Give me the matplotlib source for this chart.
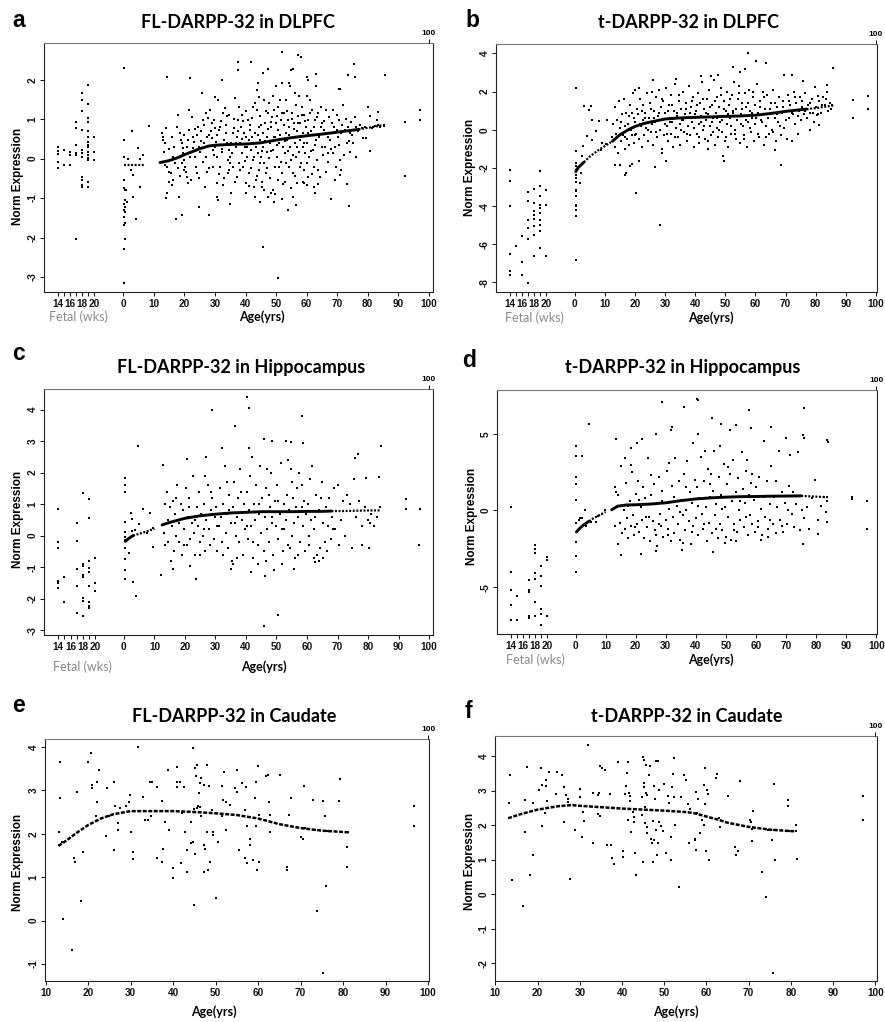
import matplotlib
matplotlib.use("Agg")
import matplotlib.pyplot as plt
from matplotlib.transforms import blended_transform_factory

W, H = 885, 1022

# ---------------- DATA ----------------
TICK_WEEKS = [14, 15, 16, 17, 18, 19, 20]
TICK_AGES = [0, 10, 20, 30, 40, 50, 60, 70, 80, 90, 100]

# ---- Panel a : FL-DARPP-32 in DLPFC ----
A_FETAL = [(14, 0.3), (14, 0.2), (14, 0.12), (14, -0.08), (14, -0.25), (15, 0.22), (15, -0.16),
           (16, 0.18), (16, 0.09), (16, -0.16), (17, 0.94), (17, 0.77), (17, 0.35), (17, 0.13), (17, 0.09), (17, -2.04),
           (18, 1.66), (18, 1.49), (18, 1.2), (18, 0.73), (18, 0.22), (18, 0.13), (18, 0.05), (18, -0.46), (18, -0.54),
           (18, -0.67), (18, -0.71), (19, 1.87), (19, 1.38), (19, 1.03), (19, 0.94), (19, 0.69), (19, 0.56), (19, 0.43),
           (19, 0.35), (19, 0.3), (19, 0.18), (19, 0.09), (19, 0.01), (19, -0.03), (19, -0.58), (19, -0.71),
           (20, 0.56), (20, 0.18), (20, -0.03)]
A_CHILD = [(0.3, 2.3), (0.3, 0.47), (0.3, 0.03), (0.3, -0.54), (0.3, -0.75), (0.4, -0.8), (0.4, -1.05), (0.3, -1.14),
           (0.4, -1.22), (0.3, -1.31), (0.4, -1.35), (0.3, -1.47), (0.4, -1.64), (0.3, -1.69), (0.4, -2.03),
           (0.3, -2.28), (0.3, -3.15), (1.6, 0.0), (2.7, 0.69), (2.4, -0.29), (3.1, -0.42), (3.3, -0.97),
           (4.1, -1.52), (4.9, 0.26), (5.4, 0.0), (5.6, -0.71), (6.5, 0.09), (8.5, 0.83), (1.0, -0.8), (1.2, -1.1)]
A_ADULT = [(12.6, 0.64), (12.9, 0.56), (13.1, 0.47), (13.7, 0.39), (13.4, 0.18), (14.2, -0.2), (14.8, -0.33), (15.1, -0.58),
           (15.5, -0.37), (15.8, -0.67), (16.2, -0.54), (16.4, 0.05), (15.3, -0.03), (14.0, 0.77), (16.6, 0.3), (16.9, -0.12),
           (17.4, 0.81), (18.0, 1.11), (18.5, 0.64), (18.8, 0.47), (19.1, 0.39), (19.4, 0.26), (19.6, 0.14), (20.0, -0.03),
           (20.3, -0.2), (20.5, -0.33), (20.7, -0.46), (21.0, -0.63), (21.5, 1.24), (21.6, 0.73), (21.8, 0.05), (18.3, 0.05),
           (19.1, -0.12), (19.8, -0.29), (20.7, 0.3), (21.3, 0.47), (22.4, 1.05), (22.7, 0.56), (23.1, 0.43), (23.4, 0.05),
           (23.8, -0.2), (24.0, -0.37), (24.5, 0.81), (24.9, 0.3), (25.1, 0.18), (25.4, 0.69), (25.6, 1.66), (26.0, -0.08),
           (26.2, 0.98), (26.4, 0.39), (26.7, -0.71), (27.0, 0.05), (27.3, 0.56), (22.9, 0.26), (24.2, 0.6), (27.8, 1.03),
           (28.4, 1.24), (28.6, 0.69), (28.9, 0.52), (29.2, 0.22), (29.4, -0.2), (29.8, 0.98), (30.0, 0.3), (30.3, 0.43),
           (30.5, 0.05), (30.8, -0.61), (31.1, 1.49), (31.4, 0.73), (31.6, 0.81), (31.8, -0.2), (32.2, 0.18), (32.5, 1.15),
           (32.7, -0.67), (28.1, -0.25), (30.0, 0.77), (32.9, 0.47), (33.3, 1.28), (33.6, 0.64), (33.8, 1.07), (34.1, -0.03),
           (34.5, -0.29), (34.7, 0.22), (34.9, 0.05), (35.1, -0.88), (35.4, 0.39), (35.8, 0.64), (36.0, -0.2), (36.3, 0.77),
           (36.5, 1.53), (36.8, 0.3), (37.1, -0.46), (37.3, 0.56), (37.5, 0.98), (37.7, -0.12), (38.0, 1.32), (38.2, 0.39),
           (34.4, -0.37), (38.4, 0.81), (38.7, 1.11), (39.0, 0.14), (39.3, -0.2), (39.6, 0.64), (39.8, 0.3), (40.0, -0.63),
           (40.3, 0.56), (40.6, 0.05), (40.8, 0.98), (41.0, -0.37), (41.2, 0.47), (41.4, 0.73), (41.7, 0.22), (41.9, -0.25),
           (42.1, 1.03), (42.3, -0.03), (42.5, 0.39), (42.7, -0.71), (43.0, 0.64), (43.2, 1.41), (43.4, -0.54), (43.6, 1.75),
           (43.8, 1.24), (44.1, 0.14), (44.3, 0.81), (44.5, -0.29), (44.7, 0.47), (44.9, 1.07), (45.1, 0.05), (45.4, -0.58),
           (45.6, 0.3), (45.8, 0.64), (46.0, 1.49), (46.2, -0.12), (46.5, 0.9), (46.7, -0.37), (46.9, 0.18), (47.1, 0.56),
           (47.3, -0.97), (47.5, 1.15), (47.8, 0.01), (48.0, 0.39), (48.2, 0.94), (44.2, 1.92), (45.3, -0.71), (48.5, 0.81),
           (48.9, 1.58), (49.1, 0.22), (49.3, 1.24), (49.5, -0.2), (49.7, 0.56), (49.9, 1.83), (50.2, 0.05), (50.4, 1.07),
           (50.6, -0.54), (50.8, 0.73), (51.0, 0.39), (51.3, 1.49), (51.5, -0.08), (51.7, 0.98), (51.9, -0.37), (52.1, 1.92),
           (52.3, 0.3), (52.6, 1.15), (52.8, 0.14), (53.0, -0.58), (53.2, 0.64), (53.4, 1.49), (53.7, 0.47), (53.9, 0.98),
           (54.1, -0.2), (54.3, 0.81), (54.5, 0.3), (54.7, 1.83), (55.0, -0.03), (55.2, 1.15), (55.4, 0.56), (55.6, -0.37),
           (55.8, 0.9), (56.1, 0.39), (56.3, 1.66), (56.5, 0.05), (56.7, 0.69), (56.9, -0.63), (57.1, 1.07), (57.4, 0.18),
           (57.6, 1.58), (57.8, 0.47), (58.0, 0.9), (58.2, -0.12), (58.5, 1.32), (58.7, 0.3), (58.9, 0.64), (59.1, -0.29),
           (59.3, 1.11), (59.5, 0.14), (59.8, 0.81), (60.0, 1.58), (60.2, 0.39), (60.4, -0.46), (60.6, 0.98), (60.9, 0.05),
           (61.1, 1.49), (61.6, 0.69), (61.9, 1.24), (62.2, 0.22), (62.4, -0.2), (62.7, 0.98), (63.0, 0.47), (63.2, 1.83),
           (63.5, -0.03), (63.8, 1.15), (64.1, 0.56), (64.3, -0.46), (64.6, 0.81), (64.9, 0.3), (65.2, 0.9), (65.6, 0.73),
           (66.0, 0.3), (66.3, 1.24), (66.5, 0.64), (67.1, 0.14), (67.6, 0.47), (68.2, 0.9), (68.5, 1.24), (68.7, 0.64),
           (69.2, 0.3), (69.8, 0.73), (70.3, 0.56), (70.7, 0.98), (70.9, -0.03), (71.4, 0.64), (72.0, 1.36), (72.5, 0.73),
           (73.1, 0.39), (73.6, 0.81), (74.2, 0.64), (74.7, 0.94), (75.2, 0.39), (76.3, 0.81), (76.9, 0.69), (77.4, 0.86),
           (78.0, 0.77), (79.1, 0.81), (81.3, 0.77), (81.9, 0.81), (82.4, 0.83), (83.0, 0.98), (83.5, 0.86), (84.1, 0.83),
           (85.2, 0.83),
           (14.2, 2.07), (21.8, 2.04), (32.2, 1.98), (37.4, 2.45), (37.4, 2.25), (41.7, 2.45), (45.6, 2.17), (47.4, 2.27),
           (52.1, 2.7), (55.0, 2.25), (55.6, 2.27), (54.3, 1.92), (57.3, 2.62), (58.1, 2.58), (60.0, 2.06), (60.5, 1.98),
           (63.2, 2.15), (70.6, 1.77), (71.1, 1.77), (73.4, 2.11), (75.6, 2.41), (75.8, 2.07), (85.6, 2.13), (97.0, 1.24),
           (97.0, 0.97), (92.1, 0.92), (92.1, -0.43), (83.4, 1.19), (84.0, 0.81), (80.2, 1.32), (80.7, 1.07), (80.7, 0.2),
           (78.5, 0.52), (79.6, 0.52), (75.8, 1.05), (76.3, 0.05), (74.2, 0.18), (74.0, -1.19), (73.1, -0.64), (70.9, -0.42),
           (71.4, -0.29), (68.7, 0.14), (69.2, -0.54), (68.0, -1.03), (67.1, -0.09), (14.0, -1.0), (14.2, -0.88),
           (17.2, -1.54), (19.1, -1.43), (18.3, -0.98), (24.9, -1.22), (28.1, -1.43), (30.5, -0.97), (31.0, -1.05),
           (34.9, -1.15), (40.1, -0.86), (43.1, -0.97), (44.7, -1.09), (45.8, -2.24), (48.2, -0.88), (49.1, -0.8),
           (49.4, -1.09), (50.5, -3.03), (51.8, -1.03), (54.0, -1.31), (55.6, -0.98), (56.5, -1.18), (62.4, -0.71),
           (62.6, -0.86), (63.9, -0.65), (60.0, -0.67), (59.1, -0.63)]
A_ADULT_MORE = [(25.3, 0.45), (26.5, 0.85), (27.5, -0.35), (28.0, 0.6), (29.0, 0.9), (29.6, 0.1), (30.7, 0.6), (31.3, -0.4),
                (32.0, 0.95), (32.4, 0.25), (33.0, -0.5), (33.5, 0.85), (34.0, 0.4), (34.6, 1.1), (35.0, -0.1), (35.6, 0.15),
                (36.1, 1.0), (36.6, -0.6), (37.0, 0.4), (37.6, 0.7), (38.3, -0.3), (38.8, 0.5), (39.2, 0.95), (39.7, -0.05),
                (40.2, 1.2), (40.5, 0.3), (41.1, -0.7), (41.5, 0.85), (42.0, 0.55), (42.4, 1.3), (42.9, 0.05), (43.3, 0.3),
                (43.7, -0.45), (44.0, 0.6), (44.4, 1.55), (44.8, -0.1), (45.2, 0.85), (45.5, 0.2), (45.9, -0.8), (46.3, 0.45),
                (46.6, 1.2), (47.0, -0.25), (47.4, 0.75), (47.7, 1.4), (48.1, -0.5), (48.4, 0.2), (48.8, 1.05), (49.2, 0.55),
                (49.6, -0.9), (50.0, 0.9), (50.3, 0.35), (50.7, 1.3), (51.1, -0.2), (51.4, 0.6), (51.8, 1.15), (52.2, -0.65),
                (52.5, 0.85), (52.9, 0.45), (53.3, -0.1), (53.6, 1.2), (54.0, 0.2), (54.4, 0.6), (54.8, -0.75), (55.1, 1.0),
                (55.5, 0.1), (55.9, 0.75), (56.2, -0.45), (56.6, 1.35), (57.0, 0.3), (57.3, 0.9), (57.7, -0.2), (58.1, 0.55),
                (58.4, 1.1), (58.8, -0.6), (59.2, 0.4), (59.6, 0.95), (60.1, -0.1), (60.5, 0.65), (61.0, 1.15), (61.4, 0.2),
                (61.8, -0.4), (62.3, 0.8), (62.8, 0.35), (63.3, 1.05), (63.7, -0.3), (64.2, 0.6), (64.7, 1.3), (65.3, 0.1),
                (65.8, 0.95), (66.4, -0.35), (67.0, 0.55), (67.5, 1.05), (68.1, 0.25), (68.9, 0.8), (69.5, -0.2), (70.1, 1.1),
                (70.6, 0.35), (71.6, 0.85), (72.3, 0.1), (73.0, 1.0), (74.0, 0.45), (75.0, 0.6), (18.6, -0.45), (19.9, 0.6),
                (21.1, 0.15), (22.1, -0.55), (23.6, 0.75), (16.0, 0.55), (17.8, -0.25), (15.0, 0.25), (13.5, -0.15),
                (24.7, -0.5), (26.9, 1.15), (29.9, 1.55)]
A_FIT_EARLY = [(0.3, -0.16), (1, -0.16), (2, -0.16), (3, -0.16), (4, -0.16), (5, -0.16), (6, -0.16), (7, -0.16)]
A_FIT_MAIN = [(12, -0.1), (15, -0.05), (18, 0.03), (20, 0.1), (22, 0.16), (25, 0.25), (28, 0.32), (30, 0.34), (35, 0.36),
              (40, 0.37), (45, 0.4), (50, 0.47), (55, 0.53), (60, 0.58), (65, 0.62), (70, 0.67), (75, 0.72), (77, 0.74)]
A_FIT_LATE = [(77, 0.74), (80, 0.78), (83, 0.82), (86, 0.86)]

# ---- Panel b : t-DARPP-32 in DLPFC ----
B_FETAL = [(14, -2.09), (14, -2.67), (14, -4.01), (14, -6.51), (14, -7.42), (14, -7.63), (15, -6.07),
           (16, -5.58), (16, -6.93), (16, -7.59), (17, -3.28), (17, -3.72), (17, -4.71), (17, -5.15), (17, -5.72), (17, -8.03),
           (18, -3.11), (18, -3.84), (18, -4.28), (18, -4.45), (18, -4.68), (18, -5.06), (18, -5.5), (18, -6.63),
           (19, -2.18), (19, -2.97), (19, -3.49), (19, -3.93), (19, -4.1), (19, -4.36), (19, -4.71), (19, -4.97), (19, -5.32),
           (19, -6.2), (20, -3.14), (20, -3.93), (20, -6.6)]
B_CHILD = [(0.3, 2.18), (0.3, -1.1), (0.3, -1.75), (0.3, -1.92), (0.4, -2.1), (0.3, -2.36), (0.4, -2.53), (0.3, -2.76),
           (0.4, -3.14), (0.3, -3.23), (0.4, -3.49), (0.3, -3.93), (0.4, -4.01), (0.3, -4.19), (0.4, -4.54), (0.3, -6.84),
           (1.6, -2.79), (2.0, -2.27), (2.3, -1.4), (2.7, -0.87), (3.1, 1.22), (4.2, -0.35), (4.7, 1.05), (5.3, 1.26),
           (5.6, 0.52), (5.8, -0.52), (6.9, -0.09), (8.0, 0.44), (8.6, -1.05), (9.1, -0.7), (10.2, -0.73), (10.8, 0.52)]
B_ADULT = [(12.5, -0.4), (12.8, 0.3), (13.2, 1.2), (13.5, -0.9), (13.8, -0.2), (14.1, 0.5), (14.4, -1.2), (14.7, 1.5),
           (15.0, 0.1), (15.3, -0.6), (15.6, 0.8), (15.9, -0.3), (16.2, 1.6), (16.5, -1.0), (16.8, 0.2), (17.1, 0.9),
           (17.4, -0.5), (17.7, 0.3), (18.0, -0.8), (18.3, 1.3), (18.6, 0.0), (18.9, -0.3), (19.2, 1.9), (19.5, 0.6),
           (19.8, -0.7), (20.1, 0.4), (20.4, -0.2), (20.7, 1.1), (21.0, 0.8), (21.3, -0.5), (21.6, 1.6), (21.9, 0.2),
           (22.2, -0.9), (22.5, 0.5), (22.8, 1.3), (23.1, -0.3), (23.4, 0.9), (23.7, 0.1), (24.0, 1.9), (24.3, -0.6),
           (24.6, 0.6), (24.9, 1.4), (25.2, -0.1), (25.5, 0.3), (25.8, 2.0), (26.1, -0.8), (26.4, 1.0), (26.7, 0.4),
           (27.0, 1.7), (27.3, -0.4), (27.6, 0.7), (27.9, 2.1), (28.2, 0.0), (28.5, 1.2), (28.8, -1.0), (29.1, 0.5),
           (29.4, 1.5), (29.7, -0.3), (30.0, 0.9), (30.3, 2.2), (30.6, 0.2), (30.9, -0.6), (31.2, 1.3), (31.5, 0.6),
           (31.8, -0.2), (32.1, 1.8), (32.4, 0.4), (32.7, -0.9), (33.0, 1.0), (33.3, 2.4), (33.6, 0.1), (33.9, 0.7),
           (34.2, -0.4), (34.5, 1.5), (34.8, 0.3), (35.1, -0.8), (35.4, 1.1), (35.7, 0.5), (36.0, 2.0), (36.3, -0.1),
           (36.6, 0.8), (36.9, 1.4), (37.2, -0.6), (37.5, 0.2), (37.8, 2.3), (38.1, 0.9), (38.4, -0.3), (38.7, 1.2),
           (39.0, 0.4), (39.3, 1.7), (39.6, -0.9), (39.9, 0.6), (40.2, 1.0), (40.5, -0.2), (40.8, 1.9), (41.1, 0.3),
           (41.4, -0.7), (41.7, 1.4), (42.0, 0.7), (42.3, 2.5), (42.6, 0.0), (42.9, 1.1), (43.2, -0.5), (43.5, 0.5),
           (43.8, 1.6), (44.1, -1.0), (44.4, 0.8), (44.7, 2.1), (45.0, 0.2), (45.3, -0.3), (45.6, 1.3), (45.9, 0.6),
           (46.2, 2.6), (46.5, -0.8), (46.8, 0.9), (47.1, 0.1), (47.4, 1.7), (47.7, -0.4), (48.0, 1.2), (48.3, 0.4),
           (48.6, 2.2), (48.9, -0.1), (49.2, 0.7), (49.5, 1.5), (49.8, -0.6), (50.1, 1.0), (50.4, 0.3), (50.7, 2.0),
           (51.0, -0.9), (51.3, 1.3), (51.6, 0.6), (51.9, -0.2), (52.2, 1.8), (52.5, 0.9), (52.8, 2.5), (53.1, 0.0),
           (53.4, 1.1), (53.7, -0.5), (54.0, 0.5), (54.3, 1.6), (54.6, 2.3), (54.9, -0.7), (55.2, 0.8), (55.5, 1.4),
           (55.8, 0.2), (56.1, -0.3), (56.4, 1.9), (56.7, 0.7), (57.0, 1.2), (57.3, -0.9), (57.6, 0.4), (57.9, 2.1),
           (58.2, 1.0), (58.5, -0.1), (58.8, 0.6), (59.1, 1.7), (59.4, -0.6), (59.7, 1.3), (60.0, 0.3), (60.4, 2.4),
           (60.8, 0.9), (61.2, -0.4), (61.6, 1.5), (62.0, 0.5), (62.4, 2.0), (62.8, -0.8), (63.2, 1.1), (63.6, 0.2),
           (64.0, 1.8), (64.4, -0.2), (64.8, 0.8), (65.2, 1.4), (65.6, 0.0), (66.0, 2.1), (66.4, 0.6), (66.8, -0.6),
           (67.2, 1.2), (67.6, 0.4), (68.0, 1.7), (68.4, -0.3), (68.8, 0.9), (69.2, 1.5), (69.6, 0.1), (70.0, 1.0),
           (70.4, -0.5), (70.8, 1.8), (71.2, 0.6), (71.6, 1.3), (72.0, -0.6), (72.4, 0.8), (72.8, 2.0), (73.2, 0.3),
           (73.6, 1.4), (74.0, -0.2), (74.4, 1.0), (74.8, 1.7), (75.2, 0.5), (75.6, 1.2), (76.0, 0.8), (76.5, 1.9),
           (77.0, 0.6), (77.5, 1.3), (78.0, 0.9), (78.8, 1.6), (79.5, 0.4), (80.2, 1.2), (81.0, 1.5), (81.8, 0.9),
           (82.5, 1.7), (83.2, 1.3), (84.0, 1.0), (84.8, 1.4), (85.5, 1.3),
           (20.3, -3.32), (28.3, -4.97), (57.4, 4.01), (60.2, 3.58), (63.4, 3.49), (85.7, 3.23), (52.5, 3.28), (55.0, 3.0),
           (56.6, 3.18), (69.5, 2.88), (72.2, 2.88), (92.5, 1.57), (92.5, 0.61), (97.5, 1.75), (97.5, 1.08), (68.4, -1.83),
           (66.4, -1.08), (75.8, 2.53), (79.7, 2.23), (80.7, 1.75), (78.3, 0.0), (80.5, 0.79), (81.0, 0.26), (83.8, 2.36),
           (83.8, 2.0), (49.7, -1.66), (49.2, -1.4), (13.5, -1.83), (15.1, -1.83), (16.6, -2.39), (17.1, -2.27),
           (18.4, -1.92), (19.0, -1.8), (21.4, -1.66), (26.7, -1.95), (29.1, -1.22), (30.2, -1.66), (26.1, 2.62),
           (33.5, 2.65), (21.2, 2.18), (20.1, 2.09), (45.3, 2.79), (47.5, 2.88), (42.0, 2.83)]
B_ADULT_MORE = [(15.4, 0.4), (16.6, -0.4), (17.9, 0.7), (19.0, 0.9), (20.0, -0.3), (21.5, 0.3), (22.3, 1.0), (23.3, 0.6),
                (24.4, 0.0), (25.4, 1.1), (26.2, 0.6), (27.1, -0.1), (28.0, 0.9), (28.9, 1.6), (29.8, 0.3), (30.5, -0.2),
                (31.0, 1.0), (31.7, 0.4), (32.3, 1.3), (33.2, -0.4), (34.0, 0.9), (34.7, 1.8), (35.3, 0.0), (36.1, 0.5),
                (36.8, 1.1), (37.4, -0.2), (38.2, 0.6), (38.9, 1.5), (39.5, 0.1), (40.0, 0.8), (40.7, 1.3), (41.3, -0.4),
                (41.9, 0.4), (42.5, 1.6), (43.0, 0.2), (43.6, 0.9), (44.2, -0.6), (44.9, 1.2), (45.5, 0.4), (46.0, -0.1),
                (46.6, 1.5), (47.2, 0.6), (47.8, 0.0), (48.4, 1.8), (49.0, 0.5), (49.6, 1.1), (50.2, -0.4), (50.9, 0.8),
                (51.5, 1.6), (52.0, 0.2), (52.7, 1.0), (53.3, -0.2), (53.9, 0.7), (54.5, 1.9), (55.1, 0.3), (55.7, 1.1),
                (56.3, -0.5), (56.9, 0.5), (57.5, 1.4), (58.1, 0.1), (58.7, 0.9), (59.3, 2.0), (60.2, 0.6), (60.9, -0.2),
                (61.5, 1.2), (62.2, 0.4), (62.9, 1.7), (63.6, -0.4), (64.3, 0.6), (65.0, 1.1), (65.7, -0.1), (66.5, 1.4),
                (67.3, 0.8), (68.2, 0.2), (69.0, 1.2), (70.0, 0.5), (71.0, 1.5), (72.0, 0.9), (73.0, 1.7), (74.2, 0.7),
                (75.4, 1.5), (76.5, 1.0), (78.0, 1.4), (79.0, 0.9), (80.8, 0.8), (82.0, 1.3), (83.5, 1.6), (85.0, 1.1)]
B_FIT_EARLY_SOLID = [(0.3, -2.2), (1, -2.0), (2, -1.85), (3, -1.7)]
B_FIT_EARLY = [(3, -1.7), (5, -1.4), (8, -1.05), (10, -0.85), (12, -0.65)]
B_FIT_MAIN = [(12.5, -0.6), (15, -0.26), (18, 0.02), (20, 0.17), (23, 0.33), (25, 0.4), (28, 0.5), (30, 0.56), (35, 0.62),
              (40, 0.65), (45, 0.67), (50, 0.7), (55, 0.72), (60, 0.76), (65, 0.85), (70, 0.96), (75, 1.05), (77, 1.08)]
B_FIT_LATE = [(77, 1.08), (80, 1.13), (83, 1.2), (86, 1.27)]

# ---- Panel c : FL-DARPP-32 in Hippocampus ----
C_FETAL = [(14, 0.84), (14, -0.19), (14, -0.4), (14, -1.44), (14, -1.51), (14, -1.67), (15, -1.32), (15, -2.11),
           (17, 0.41), (17, -0.17), (17, -1.07), (17, -1.59), (17, -2.46), (18, 1.34), (18, -0.91), (18, -0.96),
           (18, -1.25), (18, -1.32), (18, -1.99), (18, -2.07), (18, -2.54), (19, 1.16), (19, 0.57), (19, -0.8),
           (19, -1.01), (19, -1.16), (19, -1.6), (19, -2.11), (19, -2.22), (19, -2.3), (20, -0.7), (20, -1.51), (20, -1.74)]
C_CHILD = [(0.3, 1.82), (0.3, 1.61), (0.3, 1.4), (0.3, 0.44), (0.3, 0.13), (0.3, -0.03), (0.3, -0.14), (0.3, -0.4),
           (0.3, -0.75), (0.3, -1.09), (0.3, -1.38), (1.8, -0.56), (2.2, 0.71), (2.5, 0.53), (2.8, 0.16), (3.1, -1.47),
           (3.6, 0.18), (3.9, -1.91), (4.5, 2.85), (5.0, 0.36), (6.4, 0.84), (8.5, 0.71), (9.6, -0.37), (7.4, 0.07),
           (9.6, 0.23)]
C_ADULT = [(13.0, 0.1), (13.3, 1.0), (13.6, -0.3), (14.0, 1.4), (14.3, 0.5), (14.6, -0.2), (15.0, 0.9), (15.3, -0.8),
           (15.7, 0.3), (16.0, 1.1), (16.4, -0.5), (16.8, 0.7), (17.1, 0.0), (17.5, 1.6), (17.9, -0.2), (18.2, 0.4),
           (18.6, 1.0), (19.0, -0.6), (19.4, 0.8), (19.8, 0.2), (20.2, 1.5), (20.6, -0.3), (21.0, 0.6), (21.4, 1.2),
           (21.8, -0.1), (22.2, 0.4), (22.6, 1.9), (23.0, 0.1), (23.4, -0.6), (23.8, 0.9), (24.2, 0.3), (24.6, 1.4),
           (25.0, -0.2), (25.4, 0.7), (25.8, 0.0), (26.2, 1.0), (26.6, -0.5), (27.0, 0.5), (27.4, 1.6), (27.8, 0.2),
           (28.2, -0.3), (28.6, 0.8), (29.0, 1.2), (29.4, -0.1), (29.8, 0.6), (30.2, 0.9), (30.6, -0.5), (31.0, 0.3),
           (31.4, 1.5), (31.8, 0.6), (32.2, -0.2), (32.6, 1.0), (33.0, 2.2), (33.4, 0.1), (33.8, 0.7), (34.2, -0.4),
           (34.6, 1.3), (35.0, 0.4), (35.4, -0.8), (35.8, 0.9), (36.2, 1.7), (36.6, 0.0), (37.0, 0.6), (37.4, 1.2),
           (37.8, -0.2), (38.2, 2.1), (38.6, 0.5), (39.0, -0.6), (39.4, 1.0), (39.8, 0.2), (40.2, 1.4), (40.6, -0.1),
           (41.0, 0.8), (41.4, 1.9), (41.8, 0.3), (42.2, -0.7), (42.6, 1.0), (43.0, 0.5), (43.4, 1.6), (43.8, -0.3),
           (44.2, 0.7), (44.6, 2.2), (45.0, 0.1), (45.4, 1.2), (45.8, -0.5), (46.2, 0.6), (46.6, 1.5), (47.0, 0.2),
           (47.4, -0.2), (47.8, 0.9), (48.2, 2.0), (48.6, 0.4), (49.0, -0.6), (49.4, 1.1), (49.8, 0.3), (50.2, 1.6),
           (50.6, -0.1), (51.0, 0.7), (51.4, 2.3), (51.8, 0.2), (52.2, -0.5), (52.6, 1.0), (53.0, 0.5), (53.4, 1.3),
           (53.8, -0.3), (54.2, 0.8), (54.6, 2.1), (55.0, 0.0), (55.4, 1.2), (55.8, 0.4), (56.2, -0.7), (56.6, 1.5),
           (57.0, 0.6), (57.4, 2.0), (57.8, -0.2), (58.2, 0.9), (58.6, 0.3), (59.0, 1.1), (59.4, -0.5), (59.8, 0.7),
           (60.3, 1.0), (60.8, -0.3), (61.3, 0.5), (61.8, 2.2), (62.3, 0.2), (62.8, 1.3), (63.3, -0.6), (63.8, 0.8),
           (64.3, -0.4), (64.8, 1.7), (65.3, 0.4), (65.8, -0.2), (66.3, 0.9), (66.8, 0.3), (67.3, 1.2), (67.8, -0.1),
           (68.3, 0.6), (68.8, 1.5), (69.3, 0.2), (70.0, 1.6), (70.6, -0.3), (71.2, 0.5), (71.8, 1.1), (72.5, 0.0),
           (73.2, 1.3), (74.0, 1.0), (74.8, -0.4), (75.5, 1.8), (76.2, 0.6), (77.0, 1.1), (78.0, 0.3), (79.0, 0.9),
           (80.0, 0.5), (81.0, 0.7), (82.0, 0.3), (83.0, 0.6), (84.0, 0.9),
           (28.8, 3.99), (36.3, 3.48), (40.3, 4.39), (40.9, 4.04), (58.2, 3.8), (45.8, 3.05), (48.5, 3.01), (53.1, 3.01),
           (54.9, 2.98), (58.7, 2.95), (40.9, 2.77), (32.1, 2.77), (26.6, 1.89), (26.8, 2.5), (20.6, 2.42), (12.9, 2.24),
           (84.1, 2.84), (76.8, 2.58), (75.7, 2.45), (92.3, 1.17), (92.3, 0.84), (97.0, 0.84), (96.7, -0.3), (83.6, 1.87),
           (79.4, 1.82), (80.8, 0.39), (80.3, -0.4), (78.1, -0.3), (45.8, -2.86), (50.5, -2.52), (46.3, -1.27),
           (49.1, -1.09), (55.6, -1.07), (41.6, -1.16), (35.2, -1.06), (35.7, -0.9), (23.7, -1.37), (21.5, -0.96),
           (12.2, -1.25), (16.2, -1.06), (62.5, -0.85), (65.2, -0.72), (62.2, -0.72)]
C_ADULT_MORE = [(14.8, 0.4), (17.0, 1.2), (19.6, -0.3), (21.2, 0.9), (23.2, 0.5), (24.8, -0.6), (26.4, 0.2), (28.4, 1.4),
                (30.4, 0.3), (32.4, -0.6), (34.4, 0.8), (36.4, 0.4), (38.4, 1.4), (40.4, 0.3), (42.4, -0.2), (44.4, 1.0),
                (46.4, -0.8), (48.4, 0.6), (50.4, 1.1), (52.4, 0.2), (54.4, -0.4), (56.4, 0.9), (58.4, 1.6), (60.5, 0.0),
                (62.5, 0.6), (64.5, 1.2), (66.5, -0.5), (68.5, 0.2), (46.9, 2.1), (44.0, -0.9), (53.7, 2.4), (57.2, -0.6),
                (61.1, 1.8), (63.9, -0.8), (47.6, 1.3), (37.2, -0.7), (33.8, 1.7), (42.0, 2.5), (55.0, 1.7), (51.7, -0.9)]
C_FIT_EARLY_SOLID = [(0.5, -0.18), (1, -0.13), (2, -0.06), (3, 0.0)]
C_FIT_EARLY = [(3, 0.0), (5, 0.06), (8, 0.15), (10, 0.22)]
C_FIT_MAIN = [(12.5, 0.34), (15, 0.42), (20, 0.55), (25, 0.63), (30, 0.68), (35, 0.72), (40, 0.74), (45, 0.76),
              (50, 0.76), (55, 0.76), (60, 0.77), (65, 0.77), (68, 0.78)]
C_FIT_LATE = [(68, 0.78), (72, 0.78), (76, 0.79), (80, 0.8), (84, 0.8)]

# ---- Panel d : t-DARPP-32 in Hippocampus ----
D_FETAL = [(14, 0.2), (14, -4.01), (14, -5.21), (14, -6.18), (14, -7.11), (15, -5.6), (15, -7.11),
           (17, -4.51), (17, -5.16), (17, -5.31), (17, -6.85), (17, -7.0), (18, -2.28), (18, -2.52), (18, -2.78),
           (18, -4.08), (18, -4.47), (18, -5.97), (18, -6.85), (19, -3.64), (19, -4.3), (19, -4.95), (19, -6.4),
           (19, -6.75), (19, -7.48), (20, -3.04), (20, -3.21), (20, -6.85)]
D_CHILD = [(0.3, 4.2), (0.3, 3.58), (0.3, 2.15), (0.3, 1.74), (0.3, 0.69), (0.3, -0.82), (0.3, -2.06), (0.3, -2.99),
           (0.3, -4.01), (1.0, -0.61), (1.4, -0.5), (2.1, 3.56), (2.3, -0.5), (3.1, 0.0), (4.5, 5.62), (5.1, -0.72),
           (3.4, -1.04), (6.7, -0.72), (7.6, -0.39), (8.7, -0.22), (9.8, 0.0)]
D_ADULT = [(13.2, -1.0), (13.6, 1.2), (14.0, -2.2), (14.4, 0.3), (14.8, -0.8), (15.2, 2.9), (15.6, -1.5), (16.0, 0.0),
           (16.4, -1.2), (16.8, 1.8), (17.2, -0.5), (17.6, -1.8), (18.0, 0.6), (18.4, -1.0), (18.8, 2.5), (19.2, -0.3),
           (19.6, -1.6), (20.0, 1.1), (20.4, -0.9), (20.8, 1.9), (21.2, -1.4), (21.6, 0.2), (22.0, -0.6), (22.4, 1.5),
           (22.8, -1.8), (23.2, 0.8), (23.6, -1.1), (24.0, 3.4), (24.4, -0.4), (24.8, -2.0), (25.2, 1.0), (25.6, -0.7),
           (26.0, 1.7), (26.4, -1.3), (26.8, 0.4), (27.2, -2.3), (27.6, 2.2), (28.0, -0.2), (28.4, -1.0), (28.8, 1.3),
           (29.2, -1.7), (29.6, 0.5), (30.0, -0.6), (30.4, 2.6), (30.8, -1.2), (31.2, 0.1), (31.6, -2.0), (32.0, 1.6),
           (32.4, -0.4), (32.8, -1.5), (33.2, 3.4), (33.6, 0.3), (34.0, -0.9), (34.4, 1.9), (34.8, -1.9), (35.2, 0.7),
           (35.6, -0.3), (36.0, 2.4), (36.4, -1.3), (36.8, 0.0), (37.2, 3.2), (37.6, -0.7), (38.0, 1.2), (38.4, -2.2),
           (38.8, 0.5), (39.2, -1.0), (39.6, 2.0), (40.0, -0.5), (40.4, 1.5), (40.8, -1.6), (41.2, 0.8), (41.6, 3.5),
           (42.0, -0.2), (42.4, -1.2), (42.8, 1.9), (43.2, 0.2), (43.6, -2.0), (44.0, 2.7), (44.4, -0.8), (44.8, 0.9),
           (45.2, -1.5), (45.6, 1.3), (46.0, 3.9), (46.4, -0.3), (46.8, 0.4), (47.2, -1.8), (47.6, 2.2), (48.0, -0.9),
           (48.4, 1.0), (48.8, -1.3), (49.2, 3.0), (49.6, 0.2), (50.0, -1.7), (50.4, 1.7), (50.8, -0.4), (51.2, 2.4),
           (51.6, -1.9), (52.0, 0.6), (52.4, 3.3), (52.8, -0.9), (53.2, 1.2), (53.6, -1.4), (54.0, 2.1), (54.4, 0.0),
           (54.8, -0.6), (55.2, 3.8), (55.6, 1.4), (56.0, -1.1), (56.4, 0.5), (56.8, 2.6), (57.2, -1.6), (57.6, 1.0),
           (58.0, -0.3), (58.4, 1.8), (58.8, -0.9), (59.2, 0.7), (59.6, -1.4), (60.0, 1.5), (60.5, -0.7), (61.0, 2.2),
           (61.5, 0.1), (62.0, -1.6), (62.5, 4.5), (63.0, -0.4), (63.5, 1.9), (64.0, -1.2), (64.5, 0.4), (65.0, 2.9),
           (65.5, -0.9), (66.0, 0.9), (66.5, -1.5), (67.0, 0.2), (67.5, 3.9), (68.0, -0.6), (68.5, 1.2), (69.0, -1.4),
           (69.5, 0.5), (70.2, -0.9), (70.8, 1.6), (71.4, 3.6), (72.0, -0.2), (72.6, -1.1), (73.2, 0.4), (73.8, 3.8),
           (74.5, -1.3), (75.2, 0.0), (76.0, -0.5), (76.8, 0.2), (77.6, -1.2), (78.5, 0.8), (79.5, 2.0), (80.5, -0.6),
           (81.5, 0.3), (82.5, 0.9), (83.5, 0.6),
           (28.7, 7.09), (40.5, 7.27), (40.8, 7.2), (36.1, 6.72), (57.6, 6.55), (76.0, 6.66), (45.2, 6.01), (48.3, 5.62),
           (32.0, 5.42), (31.8, 5.25), (26.8, 4.97), (51.5, 5.25), (53.2, 5.57), (65.0, 5.47), (58.4, 5.36), (40.6, 4.97),
           (83.5, 4.6), (83.9, 4.43), (75.5, 4.92), (75.8, 4.71), (70.0, 4.71), (96.9, 0.59), (96.9, -1.19), (92.0, 0.91),
           (92.0, 0.74), (75.5, -2.19), (80.7, -1.54), (83.7, -0.72), (83.2, -0.07), (15.0, -2.88), (21.6, -2.82),
           (26.7, -2.67), (35.3, -2.6), (45.8, -2.71), (49.6, -2.13), (63.9, -1.76), (13.1, 1.56), (13.3, 4.66),
           (16.6, 3.45), (18.3, 4.06), (18.6, 2.97), (20.5, 4.38), (22.1, 4.64)]
D_ADULT_MORE = [(14.2, 1.0), (17.4, 0.3), (19.8, -1.1), (21.0, 0.7), (23.4, -0.4), (25.0, 2.3), (26.6, -1.6), (28.6, 0.6),
                (30.6, -1.6), (32.6, 0.9), (34.6, -0.1), (36.6, 1.5), (38.6, -1.4), (40.6, 0.3), (42.6, -0.9), (44.6, 1.7),
                (46.6, -1.2), (48.6, 0.1), (50.6, 2.8), (52.6, -1.3), (54.6, 0.6), (56.6, -0.4), (58.6, 2.4), (60.7, -1.1),
                (62.7, 0.9), (64.7, -0.6), (66.7, 1.9), (68.7, -1.0), (70.5, 0.0), (72.3, 1.2), (45.0, 2.4), (47.9, 4.2),
                (53.5, -2.0), (57.0, 3.3), (61.5, -1.9), (39.0, 4.4), (43.0, 3.9), (35.8, -2.1), (31.0, 3.1), (27.9, -0.9)]
D_FIT_EARLY_SOLID = [(0.3, -1.4), (1, -1.25), (2, -1.05), (3, -0.9), (4.5, -0.7)]
D_FIT_EARLY = [(4.5, -0.7), (6, -0.5), (8, -0.3), (10, -0.1)]
D_FIT_MAIN = [(12, 0.04), (14, 0.28), (17, 0.36), (20, 0.37), (25, 0.42), (30, 0.5), (35, 0.64), (40, 0.75), (45, 0.82),
              (50, 0.87), (55, 0.9), (60, 0.91), (65, 0.93), (70, 0.94), (75, 0.95)]
D_FIT_LATE = [(75, 0.95), (78, 0.92), (81, 0.89), (84, 0.87)]

# ---- Panel e : FL-DARPP-32 in Caudate ----
E_PTS = [(13.1, 2.05), (13.4, 3.66), (13.4, 2.82), (13.2, 1.74), (13.8, 1.8), (14.0, 0.03), (16.3, -0.68), (16.7, 1.45),
         (16.9, 1.34), (17.3, 2.97), (18.3, 0.44), (18.7, 1.57), (20.0, 3.66), (20.7, 3.86), (20.9, 3.13), (20.9, 3.05),
         (22.0, 3.2), (22.1, 2.72), (21.8, 2.4), (22.6, 3.47), (24.2, 1.95), (24.5, 3.05), (26.1, 3.2), (26.1, 1.63),
         (26.3, 2.63), (27.1, 2.24), (27.1, 2.09), (27.5, 2.59), (29.0, 2.63), (29.7, 2.74), (29.8, 2.9), (30.2, 2.03),
         (30.6, 1.59), (30.6, 1.41), (31.8, 3.99), (33.0, 2.84), (33.4, 2.32), (34.1, 2.32), (34.5, 3.2), (35.1, 3.18),
         (34.7, 2.4), (36.1, 3.07), (36.3, 1.44), (37.3, 1.34), (37.3, 2.76), (37.7, 1.64), (38.1, 2.28), (38.8, 3.47),
         (39.1, 2.09), (40.0, 1.22), (40.0, 0.98), (40.8, 3.53), (40.8, 3.07), (41.0, 3.2), (41.6, 3.2), (41.9, 1.32),
         (42.5, 3.07), (42.2, 2.47), (42.8, 2.05), (43.2, 1.63), (43.3, 1.13), (44.3, 2.27), (44.3, 1.78), (44.7, 3.97),
         (44.7, 1.82), (44.9, 0.36), (45.1, 1.54), (45.1, 3.51), (45.3, 3.32), (45.5, 3.59), (45.9, 2.63), (46.1, 2.93),
         (46.4, 3.16), (46.6, 3.28), (46.6, 2.4), (47.2, 3.13), (47.2, 1.73), (47.2, 1.11), (47.4, 1.64), (47.9, 3.59),
         (48.0, 2.05), (48.3, 1.17), (48.6, 1.36), (48.4, 3.09), (49.2, 2.55), (49.4, 2.03), (49.4, 1.97), (50.2, 0.51),
         (50.6, 1.8), (51.4, 2.41), (51.6, 3.09), (51.8, 2.78), (52.0, 3.41), (52.4, 2.09), (52.4, 2.74), (53.3, 2.67),
         (54.5, 3.05), (55.1, 3.46), (55.1, 2.95), (55.5, 1.63), (56.1, 3.16), (57.1, 3.07), (56.9, 1.44), (57.3, 1.32),
         (57.4, 2.17), (58.2, 1.87), (58.2, 1.74), (58.7, 1.4), (59.2, 2.82), (59.5, 3.18), (59.6, 2.17), (59.8, 1.17),
         (60.3, 1.36), (60.0, 3.55), (60.3, 2.43), (61.9, 3.32), (62.3, 3.36), (62.6, 2.72), (62.7, 2.03), (62.9, 2.43),
         (65.1, 3.36), (66.7, 1.24), (66.7, 1.17), (67.3, 2.43), (67.8, 2.82), (70.2, 1.92), (70.6, 1.87), (70.8, 3.1),
         (73.0, 2.78), (73.4, 2.09), (73.8, 0.23), (75.3, 2.76), (75.7, 2.41), (76.0, 0.8), (75.3, -1.2), (79.2, 3.26),
         (79.0, 2.76), (80.9, 1.7), (80.8, 1.24), (96.7, 2.64), (96.7, 2.17), (45.6, 2.6), (46.3, 2.62), (44.8, 2.58),
         (56.8, 2.55), (24.8, 2.4), (76.1, 2.06), (79.6, 2.04), (81.2, 2.04), (71.0, 2.14)]
E_FIT = [(13, 1.72), (15, 1.85), (17, 2.0), (20, 2.2), (23, 2.35), (26, 2.45), (30, 2.52), (35, 2.52), (40, 2.52),
         (45, 2.5), (50, 2.47), (55, 2.43), (60, 2.35), (65, 2.22), (70, 2.13), (75, 2.07), (80, 2.04), (81.5, 2.03)]

# ---- Panel f : t-DARPP-32 in Caudate ----
F_PTS = [(13.2, 2.63), (13.5, 3.45), (14.0, 0.41), (16.5, -0.35), (16.9, 1.81), (17.0, 2.74), (17.4, 3.69), (18.2, 0.55),
         (18.8, 1.13), (18.8, 2.63), (20.4, 3.01), (20.8, 3.64), (21.0, 1.97), (21.1, 3.16), (21.9, 3.32), (22.1, 3.13),
         (21.8, 2.34), (22.3, 2.71), (22.7, 3.55), (24.3, 2.9), (24.7, 3.55), (25.8, 3.45), (26.2, 3.09), (26.2, 2.1),
         (26.8, 2.87), (27.1, 2.77), (27.1, 2.68), (27.6, 0.43), (28.9, 1.86), (30.1, 3.04), (30.1, 2.82), (30.5, 1.66),
         (30.7, 2.39), (30.9, 2.12), (31.9, 4.32), (33.2, 2.94), (33.2, 1.47), (34.2, 2.87), (34.6, 2.92), (34.2, 2.32),
         (34.8, 3.71), (34.8, 2.26), (35.3, 3.64), (35.9, 3.61), (36.5, 1.42), (37.1, 2.9), (37.5, 1.42), (37.7, 1.06),
         (38.1, 0.87), (39.1, 3.84), (40.3, 1.26), (40.3, 1.08), (40.8, 2.9), (41.0, 3.13), (41.2, 3.5), (41.3, 3.84),
         (41.3, 2.16), (41.6, 2.94), (41.8, 2.71), (42.0, 2.84), (42.2, 1.81), (42.6, 2.39), (42.8, 2.24), (42.8, 2.1),
         (43.0, 1.2), (43.4, 0.57), (44.7, 2.82), (44.7, 2.29), (44.9, 0.94), (45.0, 3.98), (45.1, 3.88), (45.3, 3.21),
         (45.3, 3.11), (45.5, 2.53), (45.5, 2.05), (45.7, 3.74), (45.7, 2.92), (45.9, 2.87), (46.0, 1.95), (46.0, 1.76),
         (46.4, 3.45), (46.7, 3.71), (46.9, 1.61), (47.1, 1.47), (47.3, 2.13), (47.3, 0.94), (47.5, 3.13), (47.6, 1.57),
         (47.8, 2.77), (48.0, 1.86), (48.1, 3.86), (48.4, 3.86), (48.3, 1.13), (48.6, 1.49), (48.8, 3.01), (48.8, 2.1),
         (49.2, 1.98), (49.7, 1.84), (50.0, 3.19), (50.4, 1.2), (50.9, 2.84), (51.2, 2.63), (51.5, 1.0), (51.7, 1.66),
         (51.9, 3.11), (52.0, 3.47), (52.2, 3.95), (52.3, 2.82), (52.5, 2.0), (53.9, 2.82), (53.5, 0.21), (54.7, 3.45),
         (55.1, 3.32), (55.6, 2.61), (55.9, 1.47), (56.2, 2.48), (57.2, 1.61), (57.4, 1.58), (57.6, 2.97), (57.6, 1.29),
         (57.9, 2.77), (58.5, 1.76), (58.9, 2.14), (59.3, 3.16), (59.3, 2.0), (59.6, 3.66), (59.7, 2.61), (60.0, 1.26),
         (60.1, 3.01), (60.3, 2.89), (60.5, 0.99), (62.3, 3.37), (62.6, 3.48), (63.1, 1.95), (65.2, 2.84), (66.7, 1.37),
         (67.0, 1.15), (67.5, 1.25), (67.9, 3.29), (70.3, 2.14), (70.6, 2.1), (70.9, 1.55), (71.0, 2.41), (73.2, 0.65),
         (74.0, -0.08), (75.7, -2.28), (76.1, 3.18), (75.6, 1.57), (76.3, 1.0), (79.4, 2.74), (79.4, 2.55), (81.2, 2.0),
         (81.4, 1.03), (97.0, 2.84), (97.1, 2.16), (27.3, 2.76), (63.0, 2.2), (70.8, 1.9), (74.5, 1.87), (76.0, 1.85),
         (79.5, 1.82), (81.3, 1.82), (57.8, 2.35)]
F_FIT = [(13, 2.2), (16, 2.32), (20, 2.45), (25, 2.55), (28, 2.58), (30, 2.56), (35, 2.52), (40, 2.48), (45, 2.45),
         (50, 2.42), (55, 2.38), (57, 2.35), (60, 2.25), (63, 2.15), (65, 2.07), (70, 1.95), (75, 1.87), (81, 1.82)]

# ---------------- DRAWING ----------------
TITLE_FONT = ["Lato", "DejaVu Sans"]
ARIAL = ["Liberation Sans", "DejaVu Sans"]
NARROW = ["Liberation Sans Narrow", "Liberation Sans", "DejaVu Sans"]
TICK_SIZE = 7.2

fig = plt.figure(figsize=(W / 100, H / 100), dpi=100)
fig.patch.set_facecolor("white")


def fetal_pos(w):
    # fetal weeks are laid out on the left of age 0, 2 axis units per week
    return -21.5 + 2.0 * (w - 14)


def xy(pairs):
    return [p[0] for p in pairs], [p[1] for p in pairs]


def make_ax(l, t, r, b, xlim, ylim, yticks, fetal=True):
    ax = fig.add_axes([l / W, 1 - b / H, (r - l) / W, (b - t) / H])
    ax.set_xlim(*xlim)
    ax.set_ylim(*ylim)
    if fetal:
        pos = [fetal_pos(w) for w in TICK_WEEKS] + TICK_AGES
        labs = [str(w) if w % 2 == 0 else "" for w in TICK_WEEKS] + [str(a) for a in TICK_AGES]
    else:
        pos = TICK_AGES[1:]
        labs = [str(a) for a in TICK_AGES[1:]]
    ax.set_xticks(pos)
    ax.set_xticklabels(labs, fontsize=TICK_SIZE, fontfamily=NARROW, fontweight="bold")
    ax.set_yticks(yticks)
    ax.set_yticklabels([str(v) for v in yticks], fontsize=TICK_SIZE, fontfamily=NARROW, fontweight="bold",
                       rotation=90, va="center")
    ax.tick_params(axis="both", direction="out", length=3, width=0.7, pad=2, colors="#111")
    ax.tick_params(axis="y", pad=1.5)
    for sp in ax.spines.values():
        sp.set_linewidth(0.8)
        sp.set_color("#222")
    ax.spines["top"].set_color("#777")
    # the little "100" marker above the top-right corner
    ax2 = ax.twiny()
    ax2.set_xlim(ax.get_xlim())
    ax2.set_xticks([100])
    ax2.set_xticklabels(["100"], fontsize=6, fontfamily=NARROW, fontweight="bold")
    ax2.tick_params(axis="x", direction="out", length=3, width=0.7, pad=1)
    for sp in ax2.spines.values():
        sp.set_visible(False)
    return ax


def dots(ax, pairs, fetal=False):
    x, y = xy(pairs)
    if fetal:
        x = [fetal_pos(w) for w in x]
    ax.scatter(x, y, s=3.2, c="black", marker="s", linewidths=0, zorder=3)


def fit(ax, pairs, style="solid"):
    x, y = xy(pairs)
    if style == "solid":
        ax.plot(x, y, color="black", lw=2.1, solid_capstyle="round", zorder=4)
    elif style == "dot":
        ax.plot(x, y, color="black", lw=1.6, linestyle=(0, (0.9, 0.7)), zorder=4)
    else:
        ax.plot(x, y, color="black", lw=1.8, linestyle=(0, (1.6, 0.6)), zorder=4)


def titles(letter, title, lx, lby, tx, tby):
    fig.text(lx / W, 1 - lby / H, letter, fontsize=16.5, fontweight="bold", family=ARIAL, va="baseline", ha="left")
    fig.text(tx / W, 1 - tby / H, title, fontsize=13, fontweight="bold", family=TITLE_FONT, va="baseline", ha="center")


def ylabel(x, y):
    fig.text(x / W, 1 - y / H, "Norm Expression", rotation=90, fontsize=8.5, fontweight="bold", family=ARIAL,
             ha="center", va="center")


def xlabels(ax, fetal_x, age_x, by):
    tr = blended_transform_factory(ax.transData, fig.transFigure)
    if fetal_x is not None:
        ax.text(fetal_x, 1 - by / H, "Fetal (wks)", transform=tr, fontsize=9, color="#8a8a8a", family=TITLE_FONT,
                ha="center", va="baseline", clip_on=False)
    ax.text(age_x, 1 - by / H, "Age(yrs)", transform=tr, fontsize=9, fontweight="bold", family=TITLE_FONT,
            ha="center", va="baseline", clip_on=False)


# ---- a ----
ax = make_ax(44, 43, 433, 292, (-26, 101.4), (-3.38, 2.93), [-3, -2, -1, 0, 1, 2])
dots(ax, A_FETAL, fetal=True)
dots(ax, A_CHILD)
dots(ax, A_ADULT)
dots(ax, A_ADULT_MORE)
fit(ax, A_FIT_EARLY, "dot")
fit(ax, A_FIT_MAIN)
fit(ax, A_FIT_LATE, "dot")
titles("a", "FL-DARPP-32 in DLPFC", 12, 27, 238, 28)
ylabel(18, 176)
xlabels(ax, -14.6, 45.3, 321)

# ---- b ----
ax = make_ax(496, 44, 877, 292, (-26.2, 100.4), (-8.5, 4.49), [-8, -6, -4, -2, 0, 2, 4])
dots(ax, B_FETAL, fetal=True)
dots(ax, B_CHILD)
dots(ax, B_ADULT)
dots(ax, B_ADULT_MORE)
fit(ax, B_FIT_EARLY_SOLID)
fit(ax, B_FIT_EARLY, "dot")
fit(ax, B_FIT_MAIN)
fit(ax, B_FIT_LATE, "dot")
titles("b", "t-DARPP-32 in DLPFC", 465, 27, 688, 28)
ylabel(470, 167)
xlabels(ax, -13.4, 45.2, 322)

# ---- c ----
ax = make_ax(44, 389, 433, 635, (-26.2, 101.3), (-3.15, 4.65), [-3, -2, -1, 0, 1, 2, 3, 4])
dots(ax, C_FETAL, fetal=True)
dots(ax, C_CHILD)
dots(ax, C_ADULT)
dots(ax, C_ADULT_MORE)
fit(ax, C_FIT_EARLY_SOLID)
fit(ax, C_FIT_EARLY, "dot")
fit(ax, C_FIT_MAIN)
fit(ax, C_FIT_LATE, "dot")
titles("c", "FL-DARPP-32 in Hippocampus", 12, 360, 241, 373)
ylabel(18, 519)
xlabels(ax, -13.7, 46, 671)

# ---- d ----
ax = make_ax(497, 390, 877, 634, (-26.1, 100.2), (-8.05, 7.85), [-5, 0, 5])
dots(ax, D_FETAL, fetal=True)
dots(ax, D_CHILD)
dots(ax, D_ADULT)
dots(ax, D_ADULT_MORE)
fit(ax, D_FIT_EARLY_SOLID)
fit(ax, D_FIT_EARLY, "dot")
fit(ax, D_FIT_MAIN)
fit(ax, D_FIT_LATE, "dot")
titles("d", "t-DARPP-32 in Hippocampus", 462, 367, 683, 373)
ylabel(472, 516)
xlabels(ax, -13.4, 45, 664)

# ---- e ----
ax = make_ax(45, 739, 429, 981, (9.85, 100.2), (-1.39, 4.18), [-1, 0, 1, 2, 3, 4], fetal=False)
dots(ax, E_PTS)
fit(ax, E_FIT, "dash")
titles("e", "FL-DARPP-32 in Caudate", 12, 712, 234, 722)
ylabel(18, 862)
xlabels(ax, None, 49.6, 1016)

# ---- f ----
ax = make_ax(495, 736, 877, 981, (9.9, 100.4), (-2.51, 4.58), [-2, -1, 0, 1, 2, 3, 4], fetal=False)
dots(ax, F_PTS)
fit(ax, F_FIT, "dash")
titles("f", "t-DARPP-32 in Caudate", 465, 718, 687, 722)
ylabel(470, 861)
xlabels(ax, None, 52.7, 1016)

fig.savefig("out.png", dpi=100, facecolor="white")
